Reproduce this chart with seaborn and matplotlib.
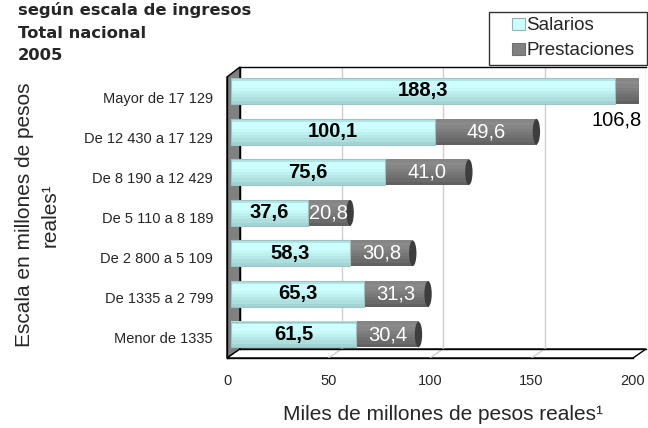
import numpy as np
import pandas as pd
import matplotlib
matplotlib.use("Agg")
import matplotlib.pyplot as plt
import seaborn as sns
from matplotlib.patches import Polygon, Ellipse, Patch, Rectangle
from matplotlib.lines import Line2D
from matplotlib.colors import to_rgb
from matplotlib.legend_handler import HandlerPatch

# ---- data -------------------------------------------------------------
categorias = ["Mayor de 17 129", "De 12 430 a 17 129", "De 8 190 a 12 429",
              "De 5 110 a 8 189", "De 2 800 a 5 109", "De 1335 a 2 799",
              "Menor de 1335"]
salarios = [188.3, 100.1, 75.6, 37.6, 58.3, 65.3, 61.5]
prestaciones = [106.8, 49.6, 41.0, 20.8, 30.8, 31.3, 30.4]
x_ticks = [0, 50, 100, 150, 200]
titulo = ["según escala de ingresos", "Total nacional", "2005"]

df = pd.DataFrame({"categoria": categorias, "salarios": salarios,
                   "prestaciones": prestaciones})
df["total"] = df["salarios"] + df["prestaciones"]

# ---- style ------------------------------------------------------------
sns.set_style("white")
plt.rcParams["font.family"] = ["Liberation Sans", "DejaVu Sans"]

W, H = 648, 428
fig = plt.figure(figsize=(W / 100, H / 100), dpi=100)
fig.patch.set_facecolor("white")


def rect(left, top, right, bottom):
    return [left / W, 1 - bottom / H, (right - left) / W, (bottom - top) / H]


CYAN = "#c6f6f6"
GRAY = "#7b7b7b"
bar_w = 0.64
XMAX = 200

# back wall (grid plane)
back = fig.add_axes(rect(240, 67, 646, 349), zorder=1)
back.set_facecolor("none")
back.set_xlim(0, XMAX)
back.set_ylim(0, 1)
back.set_xticks(x_ticks)
back.set_yticks([])
back.tick_params(axis="x", length=0, labelbottom=False)
back.grid(axis="x", color="#cfcfcf", lw=1)
for s in ["top", "left", "bottom"]:
    back.spines[s].set_color("black")
    back.spines[s].set_linewidth(1)
back.spines["right"].set_visible(False)

# bar plane
ax = fig.add_axes(rect(231, 70.7, 639, 354.8), zorder=2)
ax.set_facecolor("none")
sns.barplot(data=df, x="total", y="categoria", orient="h", color=GRAY,
            saturation=1, width=bar_w, ax=ax)
sns.barplot(data=df, x="salarios", y="categoria", orient="h", color=CYAN,
            saturation=1, width=bar_w, ax=ax)
tot_bars, sal_bars = ax.containers[0], ax.containers[1]

gray_bands = ["#858585", "#8a8a8a", "#858585", "#7e7e7e", "#777777",
              "#707070", "#6a6a6a", "#616161"]
cyan_bands = ["#b5e3e3", "#ccffff", "#ccffff", "#c6f8f8", "#bff0f0",
              "#b7e8e8", "#aedfdf", "#a3d3d3"]


def shade(patches, bands, z):
    """Paint horizontal bands over each bar to give a cylinder look."""
    arr = np.array([to_rgb(c) for c in bands])[:, None, :]
    for p in patches:
        p.set_zorder(z)
        x0, y0 = p.get_x(), p.get_y()
        w, h = p.get_width(), p.get_height()
        x1 = min(x0 + w, XMAX)
        ax.imshow(arr, extent=(x0, x1, y0 + h, y0), origin="upper",
                  aspect="auto", interpolation="nearest", zorder=z + 0.1)


shade(tot_bars.patches, gray_bands, 2)
shade(sal_bars.patches, cyan_bands, 3)
for p in sal_bars.patches:
    p.set_edgecolor("#9cc4c4")
    p.set_linewidth(0.8)
    p.set_facecolor("none")
    p.set_zorder(3.2)
for p in tot_bars.patches:
    p.set_edgecolor("none")

# dark rounded caps at the end of each stacked cylinder
for i, t in enumerate(df["total"]):
    ax.add_patch(Ellipse((t, i), width=3.6, height=bar_w * 0.98,
                         facecolor="#3d3d3d", edgecolor="none", zorder=2.3))

# value labels
for i, (s, p) in enumerate(zip(df["salarios"], df["prestaciones"])):
    ax.text(s / 2, i, f"{s:.1f}".replace(".", ","), ha="center", va="center",
            fontsize=14.5, fontweight="bold", color="black", zorder=5)
    lab = f"{p:.1f}".replace(".", ",")
    if s + p <= XMAX:
        ax.text(s + p / 2, i, lab, ha="center", va="center", fontsize=14.5,
                color="white", zorder=5)
    else:
        ax.annotate(lab, xy=(XMAX, i), xytext=(3, -29),
                    textcoords="offset pixels", ha="right", va="center",
                    fontsize=14.5, color="black", annotation_clip=False)

ax.set_xlim(0, XMAX)
ax.set_ylim(len(categorias) - 0.5, -0.5)
ax.axis("off")

# front axis frame with ticks and labels
front = fig.add_axes(rect(227, 77, 633, 358), zorder=3)
front.set_facecolor("none")
front.set_xlim(0, XMAX)
front.set_ylim(len(categorias) - 0.5, -0.5)
front.set_xticks(x_ticks)
front.set_xticklabels([str(v) for v in x_ticks], fontsize=10.5)
front.set_yticks(range(len(categorias)))
front.set_yticklabels(categorias, fontsize=10.5)
front.set_yticks(np.arange(-0.5, len(categorias)), minor=True)
front.tick_params(axis="y", which="major", length=0, pad=10)
front.tick_params(axis="y", which="minor", length=4.3, width=1,
                  color="black", direction="out")
front.tick_params(axis="x", length=4.3, width=1, color="black",
                  direction="out", pad=7.5)
for s in ["left", "bottom"]:
    front.spines[s].set_color("black")
    front.spines[s].set_linewidth(1)
for s in ["top", "right"]:
    front.spines[s].set_visible(False)
front.set_xlabel("Miles de millones de pesos reales¹", fontsize=15,
                 va="center")
front.xaxis.set_label_coords((443 - 227) / 406, (358 - 415) / 281)
front.set_ylabel("Escala en millones de pesos\nreales¹", fontsize=15,
                 va="center", linespacing=1.45)
front.yaxis.set_label_coords((37 - 227) / 406, 0.51)

# side wall and floor joining the front frame to the back wall
to_fig = fig.transFigure.inverted()


def corner(axes, x, y):
    return to_fig.transform(axes.transAxes.transform((x, y)))


def dcorner(axes, xv, ya):
    tr = matplotlib.transforms.blended_transform_factory(axes.transData,
                                                         axes.transAxes)
    return to_fig.transform(tr.transform((xv, ya)))


wall = Polygon([corner(front, 0, 1), corner(back, 0, 1), corner(back, 0, 0),
                corner(front, 0, 0)], closed=True, facecolor="#808080",
               edgecolor="black", lw=1, transform=fig.transFigure, zorder=0.5)
floor = Polygon([corner(front, 0, 0), corner(back, 0, 0), corner(back, 1, 0),
                 corner(front, 1, 0)], closed=True, facecolor="white",
                edgecolor="black", lw=1, transform=fig.transFigure, zorder=0.5)
fig.add_artist(wall)
fig.add_artist(floor)
for v in x_ticks[1:-1]:
    a, b = dcorner(front, v, 0), dcorner(back, v, 0)
    fig.add_artist(Line2D([a[0], b[0]], [a[1], b[1]], color="#cfcfcf", lw=1,
                          transform=fig.transFigure, zorder=0.6))

# title block
for txt, base in zip(titulo, [15, 38, 60]):
    fig.text(18 / W, 1 - base / H, txt, fontsize=11.8, fontweight="bold",
             family="DejaVu Sans", va="baseline", ha="left")


# legend: square swatch sitting at the right end of the handle slot
class RightSquare(HandlerPatch):
    def create_artists(self, legend, orig_handle, xdescent, ydescent,
                       width, height, fontsize, trans):
        side = height
        r = Rectangle((width - side - xdescent, -ydescent), side, side)
        self.update_prop(r, orig_handle, legend)
        r.set_transform(trans)
        return [r]


handles = [Patch(facecolor="#ccffff", edgecolor="#8fb5b5", lw=0.8,
                 label="Salarios"),
           Patch(facecolor="#808080", edgecolor="#707070", lw=0.8,
                 label="Prestaciones")]
leg = fig.legend(handles=handles, loc="lower left",
                 bbox_to_anchor=(489 / W, 1 - 65 / H, 158 / W, 57 / H),
                 mode="expand", fontsize=13.5, frameon=True, fancybox=False,
                 edgecolor="black", handlelength=1.6, handleheight=0.65,
                 handletextpad=0.1, labelspacing=0.42, borderpad=0.3,
                 borderaxespad=0, handler_map={Patch: RightSquare()})
leg.get_frame().set_linewidth(1)
leg.set_zorder(10)

fig.savefig("out.png", dpi=100)
